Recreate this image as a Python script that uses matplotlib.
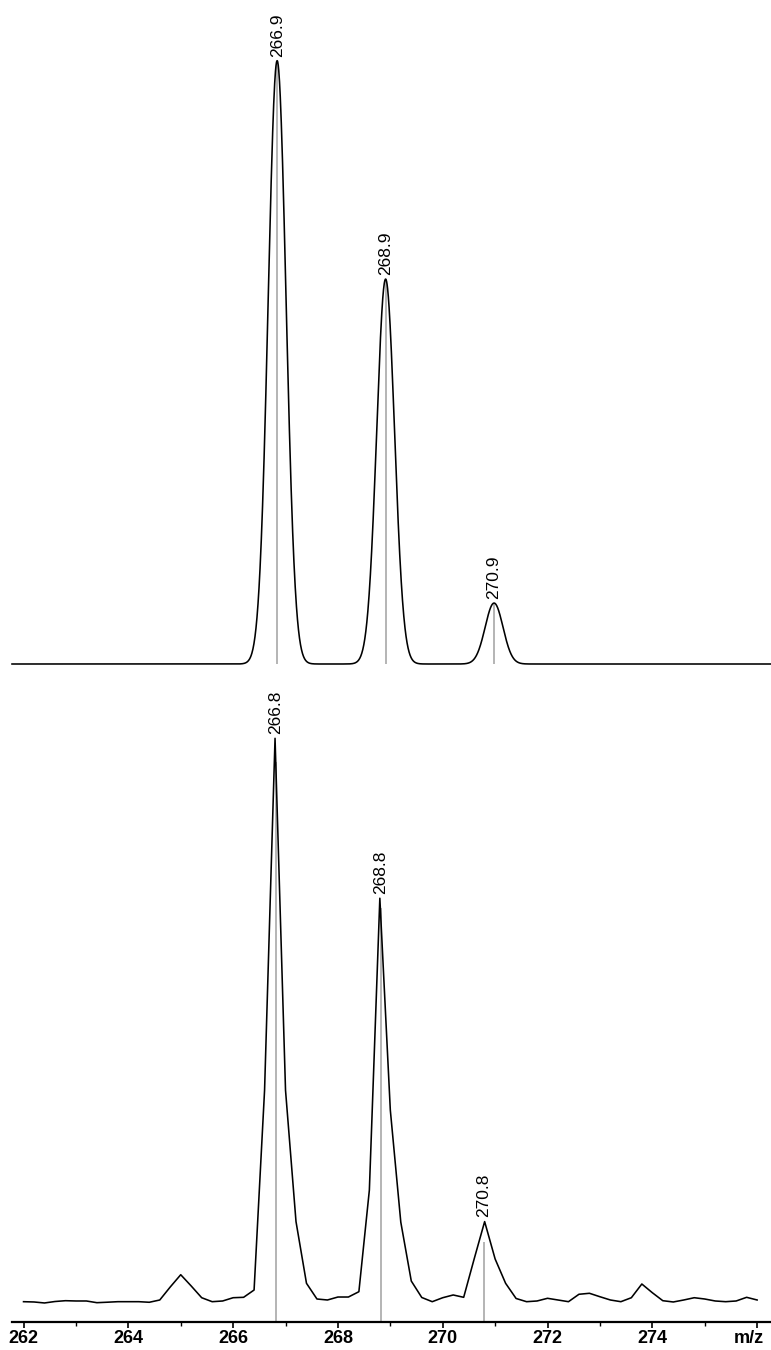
#!/usr/bin/env python3

import matplotlib
matplotlib.use("Agg")
import matplotlib.pyplot as plt
import matplotlib.transforms as mtransforms
import numpy as np

# simulated isotope pattern (top panel)
sim_mz = [266.84, 268.91, 270.98]
sim_int = [100.0, 63.8, 10.1]
sim_labels = ["266.9", "268.9", "270.9"]
sim_sigma = 0.17

# measured spectrum (bottom panel), sampled every 0.2 m/z from 262.0 to 276.0
meas_start = 262.0
meas_step = 0.2
meas_int = [
    3.48, 3.43, 3.26, 3.51, 3.65, 3.60, 3.60, 3.31, 3.39, 3.48,
    3.48, 3.48, 3.38, 3.77, 6.00, 8.10, 6.17, 4.16, 3.48, 3.60,
    4.16, 4.23, 5.48, 39.7, 100.0, 39.7, 17.2, 6.63, 3.94, 3.77,
    4.28, 4.28, 5.19, 22.6, 72.6, 36.3, 17.1, 7.02, 4.20, 3.48,
    4.16, 4.63, 4.23, 10.8, 17.2, 10.8, 6.63, 4.03, 3.48, 3.60,
    4.06, 3.77, 3.48, 4.75, 4.92, 4.33, 3.77, 3.48, 4.16, 6.51,
    5.02, 3.65, 3.43, 3.77, 4.16, 3.94, 3.60, 3.48, 3.60, 4.23,
    3.77,
]
meas_mz = meas_start + meas_step * np.arange(len(meas_int))

# centroid sticks of the measured spectrum
stick_mz = [266.81, 268.82, 270.79]
stick_int = [96.0, 71.0, 13.7]
stick_labels = ["266.8", "268.8", "270.8"]
stick_peak = [100.0, 72.6, 17.2]

tick_vals = [262, 264, 266, 268, 270, 272, 274, 276]
tick_text = ["262", "264", "266", "268", "270", "272", "274", "m/z"]

plt.rcParams["font.family"] = ["Liberation Sans", "DejaVu Sans"]

W, H = 771, 1350
fig = plt.figure(figsize=(W / 100, H / 100), dpi=100)

xmin, xmax = 261.78, 276.265
left = 12 / W
width = 1 - left

# top panel
ax1 = fig.add_axes([left, (H - 664) / H, width, 664 / H])
x = np.linspace(xmin, xmax, 3000)
y = np.zeros_like(x)
for m, a in zip(sim_mz, sim_int):
    y += a * np.exp(-0.5 * ((x - m) / sim_sigma) ** 2)
ax1.vlines(sim_mz, 0, sim_int, color="#a0a0a0", lw=1.1)
ax1.plot(x, y, color="black", lw=1.15, clip_on=False)
for m, a, lab in zip(sim_mz, sim_int, sim_labels):
    ax1.annotate(lab, (m, a), xytext=(0, 3), textcoords="offset points",
                 rotation=90, ha="center", va="bottom", fontsize=12.5)
ax1.set_xlim(xmin, xmax)
ax1.set_ylim(0, 110.06)
ax1.axis("off")

# bottom panel
ax2 = fig.add_axes([left, (H - 1322) / H, width, (1322 - 700) / H])
ax2.vlines(stick_mz, 0, stick_int, color="#a0a0a0", lw=1.1)
ax2.plot(meas_mz, meas_int, color="black", lw=1.15)
for m, a, lab in zip(stick_mz, stick_peak, stick_labels):
    ax2.annotate(lab, (m, a), xytext=(0, 3), textcoords="offset points",
                 rotation=90, ha="center", va="bottom", fontsize=12.5)
ax2.set_xlim(xmin, xmax)
ax2.set_ylim(0, (1322 - 700) / 5.837)
for s in ["left", "right", "top"]:
    ax2.spines[s].set_visible(False)
ax2.spines["bottom"].set_linewidth(1.6)
ax2.set_yticks([])
ax2.set_xticks(tick_vals)
ax2.set_xticklabels(tick_text, fontsize=13, fontweight="bold")
ax2.set_xticks(np.arange(263, 276, 2), minor=True)
ax2.tick_params(axis="x", which="major", length=4, width=1.2, pad=2)
ax2.tick_params(axis="x", which="minor", length=3, width=1.0)

# nudge the unit label a little to the left, as in the original
mz_label = ax2.get_xticklabels()[-1]
mz_label.set_transform(mz_label.get_transform()
                       + mtransforms.ScaledTranslation(-0.08, 0, fig.dpi_scale_trans))

fig.savefig("out.png", dpi=100)
